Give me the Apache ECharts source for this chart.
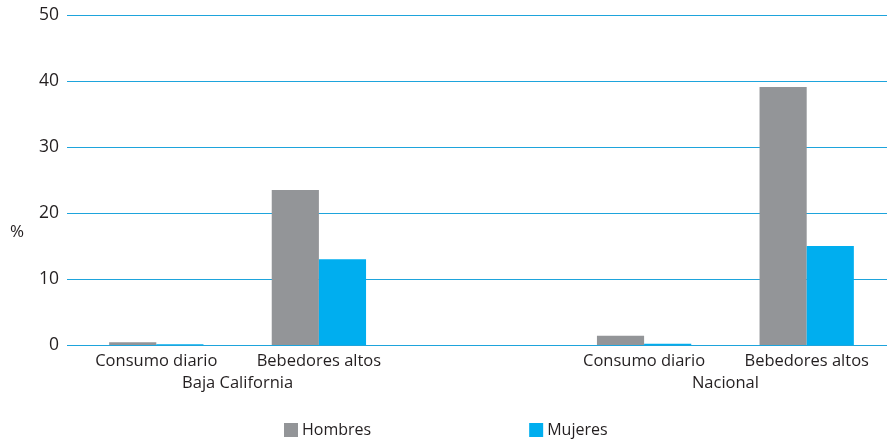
<!DOCTYPE html>
<html><head><meta charset="utf-8">
<script src="https://cdn.jsdelivr.net/npm/echarts@6/dist/echarts.min.js"></script>
<style>html,body{margin:0;padding:0;background:#fff}#c{width:887px;height:444px}</style>
</head><body><div id="c"></div>
<script>
var categories = ['Consumo diario', 'Bebedores altos', '', 'Consumo diario', 'Bebedores altos'];
var groups = ['Baja California', 'Baja California', '', 'Nacional', 'Nacional'];
var hombres = [0.4, 23.5, null, 1.4, 39.1];
var mujeres = [0.1, 13.0, null, 0.2, 15.0];
var yTicks = [0, 10, 20, 30, 40, 50];

// group label positions derived from category indices
var groupLabels = {};
(function(){
  var seen = {};
  groups.forEach(function(g, i){ if(!g) return; (seen[g] = seen[g] || []).push(i); });
  Object.keys(seen).forEach(function(g){
    var idx = seen[g];
    var c = (idx[0] + idx[idx.length-1]) / 2;
    groupLabels[c.toFixed(2)] = g;
  });
})();

var FONT = 'Open Sans';
var TXT = '#231f20';
var gridColor = '#1ea4dc';
var chart = echarts.init(document.getElementById('c'), null, {renderer:'canvas'});
chart.setOption({
  animation: false,
  textStyle: {fontFamily: FONT},
  title: {text: '%', left: 10, top: 224, padding: 0,
    textStyle: {fontFamily: FONT, fontSize: 17, fontWeight: 'normal', color: TXT}},
  legend: {
    left: 284, top: 422, padding: 0,
    itemWidth: 14, itemHeight: 14, itemGap: 158,
    icon: 'rect',
    textStyle: {fontFamily: FONT, fontSize: 16, color: TXT, padding: [0,0,0,-1]},
    data: ['Hombres', 'Mujeres']
  },
  grid: [
    {left: 67, right: 0, top: 15, bottom: 99, outerBoundsMode: 'none', containLabel: false},
    {left: 75, right: -1, top: 15, bottom: 99, outerBoundsMode: 'none', containLabel: false}
  ],
  xAxis: [
    {gridIndex: 0, type: 'value', show: false, min: 0, max: 1},
    {gridIndex: 1, type: 'category', data: categories,
     axisLine: {show: true, lineStyle: {color: gridColor, width: 1}},
     axisTick: {show: false},
     axisLabel: {interval: 0, fontFamily: FONT, fontSize: 16.5, color: TXT, margin: 8}},
    {gridIndex: 1, type: 'value', position: 'bottom', min: -0.5, max: 4.5, interval: 0.5,
     axisLine: {show: false}, axisTick: {show: false}, splitLine: {show: false},
     axisLabel: {fontFamily: FONT, fontSize: 16.5, color: TXT, margin: 30, showMinLabel: true, showMaxLabel: true,
       formatter: function(v){ return groupLabels[v.toFixed(2)] || ''; }}}
  ],
  yAxis: [
    {gridIndex: 0, type: 'value', min: 0, max: 50, interval: 10,
     axisLine: {show: false}, axisTick: {show: false},
     axisLabel: {fontFamily: FONT, fontSize: 17.5, color: TXT, margin: 8,
       formatter: function(v){ return yTicks.indexOf(v) >= 0 ? String(v) : ''; }},
     splitLine: {show: true, lineStyle: {color: gridColor, width: 1, type: 'solid', opacity: 1}}},
    {gridIndex: 1, type: 'value', min: 0, max: 50, interval: 10, show: false, splitLine: {show: false}}
  ],
  series: [
    {name: 'Hombres', type: 'bar', xAxisIndex: 1, yAxisIndex: 1, data: hombres,
     itemStyle: {color: '#939598'}, barGap: '0%', barCategoryGap: '42%'},
    {name: 'Mujeres', type: 'bar', xAxisIndex: 1, yAxisIndex: 1, data: mujeres,
     itemStyle: {color: '#00aeef'}, barGap: '0%', barCategoryGap: '42%'}
  ]
});
</script></body></html>
